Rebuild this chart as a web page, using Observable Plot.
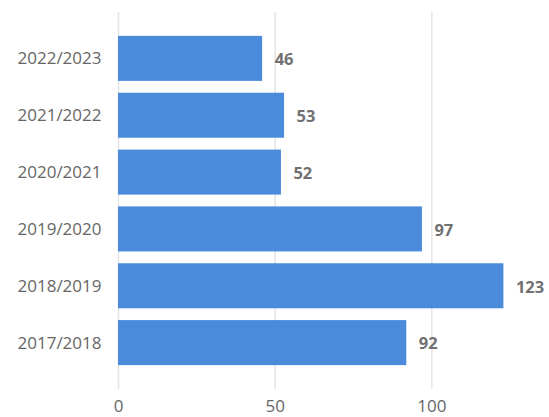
<!DOCTYPE html>
<html>
<head>
<meta charset="utf-8">
<script src="https://cdn.jsdelivr.net/npm/d3@7"></script>
<script src="https://cdn.jsdelivr.net/npm/@observablehq/plot@0.6"></script>
<style>
  html, body { margin: 0; padding: 0; background: #fff; }
  #chart svg { display: block; }
</style>
</head>
<body>
<div id="chart"></div>
<script>
const seasons = ["2022/2023", "2021/2022", "2020/2021", "2019/2020", "2018/2019", "2017/2018"];
const counts = [46, 53, 52, 97, 123, 92];
const xTicks = [0, 50, 100];

const data = seasons.map((s, i) => ({season: s, value: counts[i]}));

const chart = Plot.plot({
  width: 549,
  height: 417,
  marginTop: 12,
  marginBottom: 28,
  marginLeft: 118,
  marginRight: 8,
  style: {fontFamily: "'Open Sans', sans-serif", fontSize: "17px", color: "#666", background: "#fff"},
  x: {domain: [0, 135], ticks: xTicks, label: null, tickSize: 0},
  y: {domain: seasons, label: null, tickSize: 0, paddingInner: 0.208, paddingOuter: 0.42, round: false},
  marks: [
    Plot.ruleX(xTicks, {stroke: "#e4e4e4", strokeWidth: 1.5}),
    Plot.barX(data, {y: "season", x: "value", fill: "#4a8bdc"}),
    Plot.text(data, {y: "season", x: "value", text: d => String(d.value), textAnchor: "start", dx: 12, dy: 1, fill: "#717171", fontWeight: "bold", fontSize: 16.5}),
    Plot.axisX({ticks: xTicks, tickSize: 0, tickPadding: 10, fontSize: 17, fill: "#666", label: null}),
    Plot.axisY({tickSize: 0, tickPadding: 17, fontSize: 17, fill: "#666", label: null})
  ]
});
document.getElementById("chart").appendChild(chart);
</script>
</body>
</html>
